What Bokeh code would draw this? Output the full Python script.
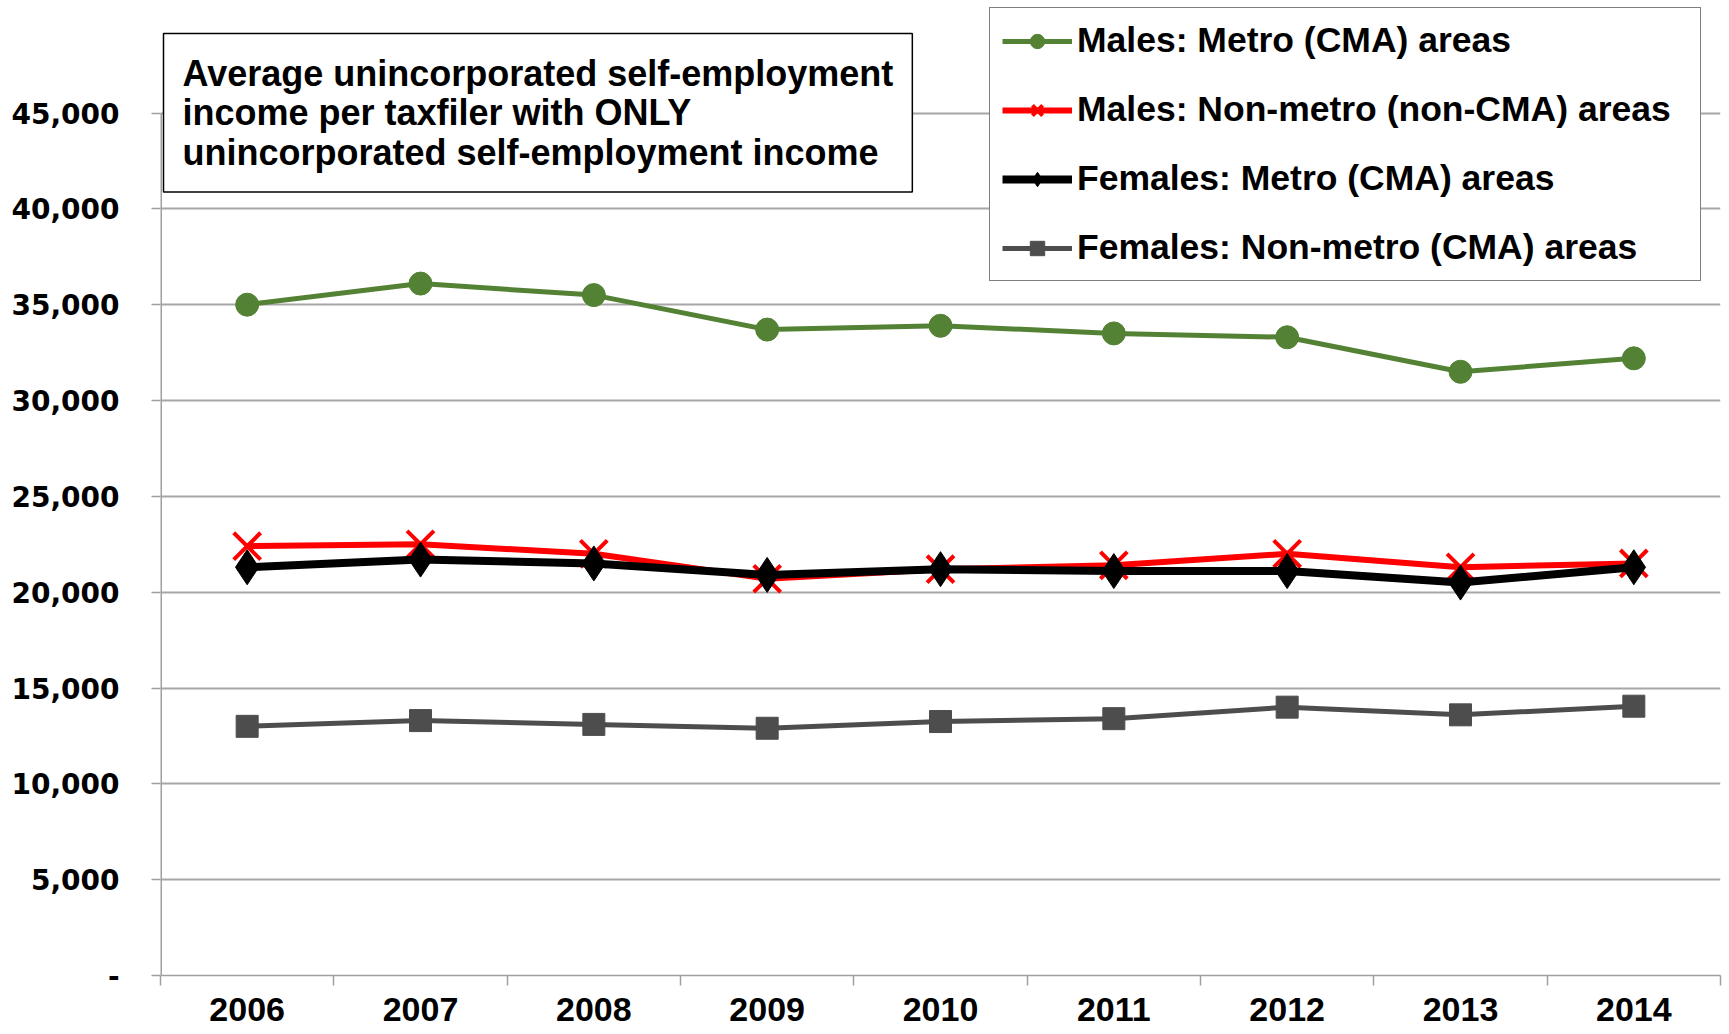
from bokeh.plotting import figure
from bokeh.models import Range1d, FixedTicker, Legend, LegendItem, Label
from bokeh.embed import file_html
from bokeh.resources import INLINE

# ---- data ----
years = ["2006", "2007", "2008", "2009", "2010", "2011", "2012", "2013", "2014"]
males_metro = [35000, 36100, 35500, 33700, 33900, 33500, 33300, 31500, 32200]
males_nonmetro = [22400, 22500, 22000, 20700, 21200, 21400, 22000, 21300, 21500]
females_metro = [21300, 21700, 21500, 20900, 21200, 21100, 21100, 20500, 21300]
females_nonmetro = [13000, 13300, 13100, 12900, 13250, 13400, 14000, 13600, 14050]
series_names = [
    "Males: Metro (CMA) areas",
    "Males: Non-metro (non-CMA) areas",
    "Females: Metro (CMA) areas",
    "Females: Non-metro (CMA) areas",
]
y_ticks = [0, 5000, 10000, 15000, 20000, 25000, 30000, 35000, 40000, 45000]
y_tick_labels = ["-", "5,000", "10,000", "15,000", "20,000", "25,000",
                 "30,000", "35,000", "40,000", "45,000"]
title_text = ("Average unincorporated self-employment\n"
              "income per taxfiler with ONLY\n"
              "unincorporated self-employment income")

GREEN = "#548235"
RED = "#FF0000"
BLACK = "#000000"
GRAY = "#4D4D4D"
AXIS_GRAY = "#A0A0A0"
FONT = "Liberation Sans"

n = len(years)
xs = [i + 0.5 for i in range(n)]

# frame runs to the top of the canvas so the boxed title and legend
# (which sit above the 45,000 gridline) are not clipped
FIG_W = 1729
FIG_H = 1034
BORDER_BOTTOM = 59
PLOT_TOP_PX = 112.5          # where 45,000 sits, from canvas top
frame_h = FIG_H - BORDER_BOTTOM
y_end = y_ticks[-1] * frame_h / (frame_h - PLOT_TOP_PX)

p = figure(width=FIG_W, height=FIG_H, output_backend="svg", toolbar_location=None,
           x_range=Range1d(0, n), y_range=Range1d(0, y_end),
           min_border_left=160, min_border_right=9, min_border_top=0,
           min_border_bottom=BORDER_BOTTOM)
p.outline_line_color = None
p.background_fill_color = "white"
p.border_fill_color = "white"

# x axis: labels at category centres, tick marks between categories
xa = p.xaxis[0]
xa.ticker = FixedTicker(ticks=xs, minor_ticks=list(range(n + 1)))
xa.major_label_overrides = {x: y for x, y in zip(xs, years)}
xa.major_tick_out = 0
xa.major_tick_in = 0
xa.minor_tick_out = 10
xa.minor_tick_in = 0
xa.minor_tick_line_color = AXIS_GRAY
xa.minor_tick_line_width = 1.5
xa.axis_line_color = AXIS_GRAY
xa.axis_line_width = 1.5
xa.major_label_text_font = FONT
xa.major_label_text_font_style = "bold"
xa.major_label_text_font_size = "34px"
xa.major_label_text_color = "black"
xa.major_label_standoff = 12

ya = p.yaxis[0]
ya.ticker = FixedTicker(ticks=y_ticks)
ya.major_label_overrides = {t: l for t, l in zip(y_ticks, y_tick_labels)}
ya.major_tick_out = 9
ya.major_tick_in = 0
ya.minor_tick_line_color = None
ya.major_tick_line_color = AXIS_GRAY
ya.major_tick_line_width = 1.5
ya.axis_line_color = None
ya.major_label_text_font = "DejaVu Sans"
ya.major_label_text_font_style = "bold"
ya.major_label_text_font_size = "28px"
ya.major_label_text_color = "black"
ya.major_label_standoff = 32

# vertical axis line only from 0 to 45,000
p.segment(x0=[0], y0=[y_ticks[0]], x1=[0], y1=[y_ticks[-1]],
          line_color=AXIS_GRAY, line_width=3)

p.xgrid.visible = False
p.ygrid.grid_line_color = "#A6A6A6"
p.ygrid.grid_line_width = 2

# series
l4 = p.line(xs, females_nonmetro, line_color=GRAY, line_width=5)
m4 = p.scatter(xs, females_nonmetro, marker="square", size=22, color=GRAY)
l1 = p.line(xs, males_metro, line_color=GREEN, line_width=5)
m1 = p.scatter(xs, males_metro, marker="circle", size=23, color=GREEN)
l2 = p.line(xs, males_nonmetro, line_color=RED, line_width=6)
m2 = p.scatter(xs, males_nonmetro, marker="x", size=38, line_color=RED, line_width=4)
l3 = p.line(xs, females_metro, line_color=BLACK, line_width=8)
m3 = p.scatter(xs, females_metro, marker="diamond", size=35, color=BLACK)

legend = Legend(
    items=[
        LegendItem(label=series_names[0], renderers=[l1, m1]),
        LegendItem(label=series_names[1], renderers=[l2, m2]),
        LegendItem(label=series_names[2], renderers=[l3, m3]),
        LegendItem(label=series_names[3], renderers=[l4, m4]),
    ],
    location=(829, 694), margin=0, padding=12, spacing=28,
    glyph_width=70, glyph_height=36, label_height=36, label_width=611,
    label_standoff=5,
    label_text_font=FONT, label_text_font_style="bold",
    label_text_font_size="35.5px", label_text_color="black",
    border_line_color="black", border_line_width=1.5,
    background_fill_color="white", background_fill_alpha=1.0,
)
p.add_layout(legend)

title = Label(x=3, y=942, x_units="screen", y_units="screen", text=title_text,
              anchor="top_left", padding=19,
              text_font=FONT, text_font_style="bold", text_font_size="36px",
              text_line_height=0.97, text_color="black",
              border_line_color="black", border_line_width=1.5,
              background_fill_color="white", background_fill_alpha=1.0)
p.add_layout(title)

open("out.html", "w").write(file_html(p, INLINE))
